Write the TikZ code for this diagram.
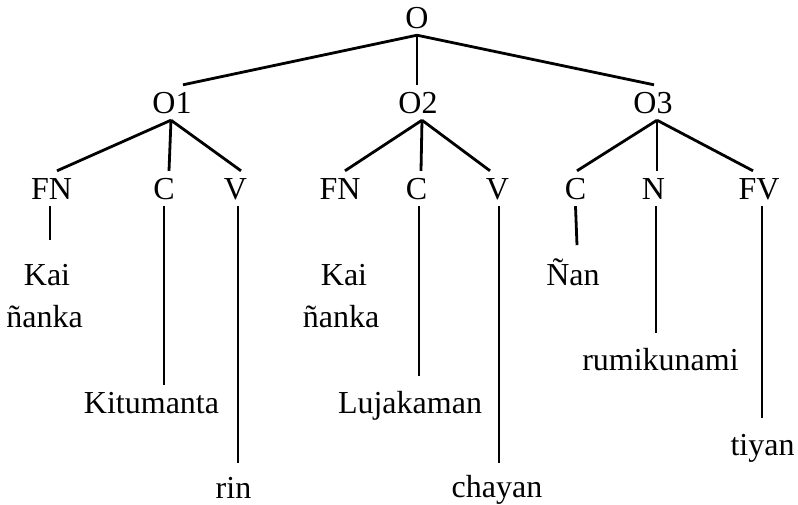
\documentclass[tikz,border=0pt]{standalone}
\usepackage{fontspec}
\setmainfont{Liberation Serif}
\newcommand{\treefont}{\fontsize{32}{38}\selectfont}
\begin{document}
\begin{tikzpicture}[x=1pt,y=-1pt,
  lbl/.style={inner xsep=0pt, inner ysep=7pt, text height=21pt, text depth=0pt, anchor=base, font=\treefont},
  leaf/.style={inner sep=0pt, anchor=base, font=\treefont},
  edge/.style={line width=2.8pt}]
\useasboundingbox (0,0) rectangle (798,504);
% level 1
\node[lbl] (O) at (417,28) {O};
% level 2
\node[lbl] (Oa) at (172,113) {O1};
\node[lbl] (Ob) at (418,113) {O2};
\node[lbl] (Oc) at (653,113) {O3};
% level 3
\node[lbl] (FNa) at (51.5,199) {FN};
\node[lbl] (Ca) at (164,199) {C};
\node[lbl] (Va) at (235.5,199) {V};
\node[lbl] (FNb) at (340,199) {FN};
\node[lbl] (Cb) at (416.5,199) {C};
\node[lbl] (Vb) at (497.5,199) {V};
\node[lbl] (Cc) at (575.5,199) {C};
\node[lbl] (Nc) at (653.5,199) {N};
\node[lbl] (FVc) at (759,199) {FV};
% leaves
\node[leaf] (kaiA) at (47,285) {Kai};
\node[leaf] (nankaA) at (44.5,327) {ñanka};
\node[leaf] (kitu) at (151.5,413) {Kitumanta};
\node[leaf] (rin) at (233.5,498) {rin};
\node[leaf] (kaiB) at (344,285) {Kai};
\node[leaf] (nankaB) at (341,327) {ñanka};
\node[leaf] (luja) at (410,413) {Lujakaman};
\node[leaf] (chayan) at (497,497) {chayan};
\node[leaf] (nan) at (573,285) {Ñan};
\node[leaf] (rumi) at (660.5,370) {rumikunami};
\node[leaf] (tiyan) at (762.5,455) {tiyan};
% apex points
\coordinate (Oapex) at (O.south);
\coordinate (Oaapex) at ([xshift=-1pt]Oa.south);
\coordinate (Obapex) at ([xshift=4pt]Ob.south);
\coordinate (Ocapex) at ([xshift=4pt]Oc.south);
% level 1 -> 2
\draw[edge] (Oapex) -- ([xshift=11pt]Oa.north);
\draw[edge] (Oapex) -- ([xshift=-1pt]Ob.north);
\draw[edge] (Oapex) -- ([xshift=1pt]Oc.north);
% level 2 -> 3
\draw[edge] (Oaapex) -- ([xshift=5.5pt]FNa.north);
\draw[edge] (Oaapex) -- ([xshift=5pt]Ca.north);
\draw[edge] (Oaapex) -- ([xshift=5.5pt]Va.north);
\draw[edge] (Obapex) -- ([xshift=5pt]FNb.north);
\draw[edge] (Obapex) -- ([xshift=4.5pt]Cb.north);
\draw[edge] (Obapex) -- ([xshift=-7.5pt]Vb.north);
\draw[edge] (Ocapex) -- ([xshift=1.5pt]Cc.north);
\draw[edge] (Ocapex) -- ([xshift=3.5pt]Nc.north);
\draw[edge] (Ocapex) -- ([xshift=-6pt]FVc.north);
% level 3 -> leaves
\draw[edge] ([xshift=-1.5pt]FNa.south) -- ++(0,34);
\draw[edge] (Ca.south) -- ++(0,179);
\draw[edge] ([xshift=2.5pt]Va.south) -- ++(0,257);
\draw[edge] ([xshift=2.5pt]Cb.south) -- ++(0,170);
\draw[edge] ([xshift=1.5pt]Vb.south) -- ++(0,257);
\draw[edge] (Cc.south) -- ++(1.5,39);
\draw[edge] ([xshift=2.5pt]Nc.south) -- ++(0,127);
\draw[edge] ([xshift=3pt]FVc.south) -- ++(0,212);
\end{tikzpicture}
\end{document}
